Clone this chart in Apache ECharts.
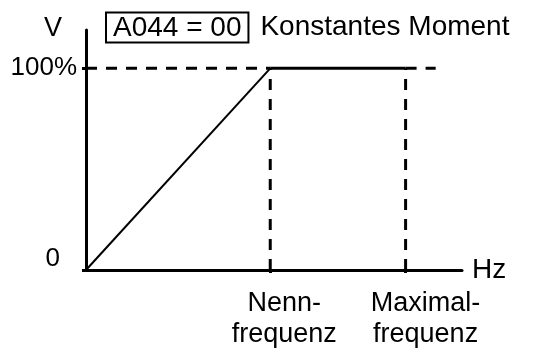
<!DOCTYPE html>
<html lang="de">
<head>
    <meta charset="UTF-8"/>
    <title>Konstantes Moment</title>
    <script src="https://cdn.jsdelivr.net/npm/echarts@6/dist/echarts.min.js"></script>
    <style>
        html, body { margin: 0; padding: 0; background: #fff; }
        #chart { width: 538px; height: 349px; }
    </style>
</head>
<body>
<div id="chart"></div>
<script type="text/javascript">
    // Kennlinie U/f (A044 = 00)
    var rampe = [[0, 0], [49, 100]];          // Anstieg bis Nennfrequenz
    var konstant = [[49, 100], [85, 100]];    // konstante Spannung bis Maximalfrequenz
    var hilfH = [[0, 100], [49, 100], null, [85, 100], [93, 100]]; // gestrichelte Horizontale
    var hilfV = [[49, 0], [49, 100], null, [85, 0], [85, 100]];    // gestrichelte Senkrechte
    var xWerte = [49, 85];
    var xTexte = [['Nenn-', 'frequenz'], ['Maximal-', 'frequenz']];
    var yTexte = { 0: '0', 100: '100%' };

    var schrift = "'Liberation Sans', Arial, sans-serif";
    var myChart = echarts.init(document.getElementById('chart'));

    // eine x-Achse je Beschriftung, damit sich die Texte nicht gegenseitig ausblenden
    function xAchse(i, sichtbar, verschiebung) {
        return {
            type: 'value',
            min: 0,
            max: 100,
            position: 'bottom',
            name: sichtbar ? 'Hz' : '',
            nameGap: 10,
            nameTextStyle: { fontFamily: schrift, fontSize: 28, color: '#000', verticalAlign: 'middle' },
            axisLine: { show: sichtbar, lineStyle: { color: '#000', width: 3 } },
            axisTick: { show: true, customValues: [xWerte[i]], length: 3, lineStyle: { width: 3, color: '#000' } },
            splitLine: { show: false },
            axisLabel: {
                customValues: [xWerte[i]],
                margin: 18,
                formatter: function () {
                    return '{a|' + xTexte[i][0] + '}\n{a|' + xTexte[i][1] + '}';
                },
                rich: {
                    a: { fontFamily: schrift, fontSize: 27, color: '#000', lineHeight: 31, padding: [0, 0, 0, verschiebung] }
                }
            }
        };
    }

    var option = {
        animation: false,
        title: {
            left: 106,
            top: 12,
            padding: 0,
            text: '{box|A044 = 00}{t|Konstantes Moment}',
            textStyle: {
                fontWeight: 'normal',
                rich: {
                    box: {
                        fontFamily: schrift, fontSize: 28, fontWeight: 'normal', color: '#000',
                        borderColor: '#000', borderWidth: 2,
                        padding: [2, 7, 0, 7], lineHeight: 31
                    },
                    t: { fontFamily: schrift, fontSize: 28, fontWeight: 'normal', color: '#000', lineHeight: 31, padding: [0, 0, 0, 12] }
                }
            }
        },
        grid: { left: 86, right: 76, top: 30, bottom: 79 },
        xAxis: [xAchse(0, true, 28), xAchse(1, false, 40)],
        yAxis: {
            type: 'value',
            min: 0,
            max: 119,
            interval: 100,
            name: 'V',
            nameGap: 1,
            nameTextStyle: { fontFamily: schrift, fontSize: 27, color: '#000', align: 'right', verticalAlign: 'middle', padding: [0, 24, 0, 0] },
            axisLine: { show: true, lineStyle: { color: '#000', width: 3 } },
            axisTick: { show: true, length: 4, lineStyle: { width: 3, color: '#000' } },
            splitLine: { show: false },
            axisLabel: {
                showMaxLabel: false,
                margin: 9,
                formatter: function (v) {
                    return v === 0 ? '{z|' + yTexte[v] + '}' : '{h|' + yTexte[v] + '}';
                },
                rich: {
                    h: { fontFamily: schrift, fontSize: 26, color: '#000' },
                    z: { fontFamily: schrift, fontSize: 26, color: '#000', padding: [0, 17, 22, 0] }
                }
            }
        },
        series: [
            {
                type: 'line', data: hilfH, symbol: 'none', connectNulls: false,
                lineStyle: { color: '#000', width: 3, type: [11, 9] }
            },
            {
                type: 'line', data: hilfV, symbol: 'none', connectNulls: false,
                lineStyle: { color: '#000', width: 3, type: [11, 9] }
            },
            {
                type: 'line', data: rampe, symbol: 'none',
                lineStyle: { color: '#000', width: 2 }
            },
            {
                type: 'line', data: konstant, symbol: 'none',
                lineStyle: { color: '#000', width: 3 }
            }
        ]
    };
    myChart.setOption(option);
</script>
</body>
</html>
